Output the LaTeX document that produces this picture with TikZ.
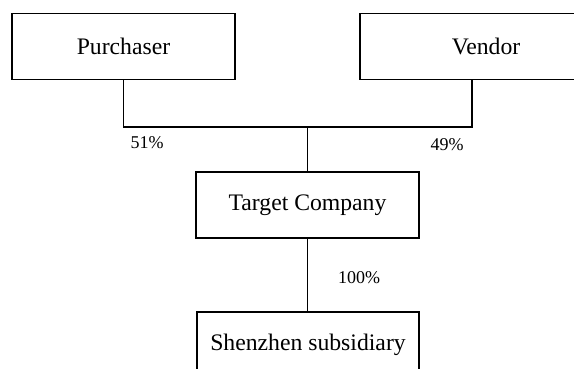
\documentclass[tikz,border=0pt]{standalone}
\usepackage{fontspec}
\setmainfont{Liberation Serif}
\usetikzlibrary{positioning}

\begin{document}
\begin{tikzpicture}[x=0.5pt,y=-0.5pt,
  entity/.style={draw, line width=0.6pt, minimum height=33pt, inner sep=0pt,
    font=\fontsize{11.85}{14}\selectfont},
  share/.style={inner sep=0pt, font=\fontsize{9}{11}\selectfont},
  link/.style={line width=0.7pt}]
 \useasboundingbox (0,0) rectangle (574,369);
 \clip (0,0) rectangle (574,369);

 \node[entity, minimum width=111.5pt] (P) at (123.5,46.5) {Purchaser};
 \node[entity, minimum width=126pt] (V) at (486,46.5) {Vendor};
 \node[entity, minimum width=111.5pt] (T) at (307.5,205) {Target Company};
 \node[entity, minimum width=111pt] (S) at (308,345) {Shenzhen subsidiary};

 \coordinate (J) at (307.5,127);
 \coordinate (VJ) at (472,127);

 \draw[link] (P.south) |- (VJ) -- (VJ |- V.south);
 \draw[link] (J) -- (T.north);
 \draw[link] (T.south) -- (T.south |- S.north);

 \node[share] (PS) at (147,143) {51\%};
 \node[share] (VS) at (447,145) {49\%};
 \node[share] (TS) at (359,278) {100\%};

\end{tikzpicture}
\end{document}
